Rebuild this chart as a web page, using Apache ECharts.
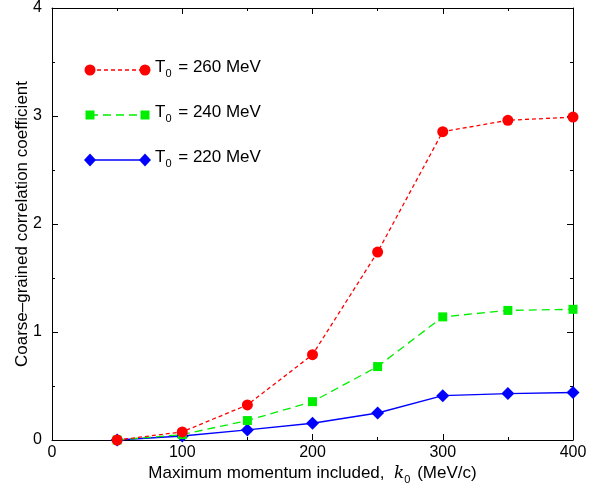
<!DOCTYPE html>
<html><head><meta charset="utf-8">
<script src="https://cdn.jsdelivr.net/npm/echarts@6/dist/echarts.min.js"></script>
<style>html,body{margin:0;padding:0;background:#fff}#c{width:598px;height:486px}</style>
</head><body><div id="c"></div>
<script>
const momentum = [50, 100, 150, 200, 250, 300, 350, 400];
const t260 = [0.00, 0.075, 0.325, 0.79, 1.74, 2.855, 2.96, 2.99];
const t240 = [0.00, 0.05, 0.18, 0.355, 0.68, 1.14, 1.20, 1.21];
const t220 = [0.00, 0.037, 0.093, 0.155, 0.25, 0.41, 0.43, 0.44];
const seriesNames = ['260', '240', '220'];
const xTicks = [0, 100, 200, 300, 400];
const yTicks = [0, 1, 2, 3, 4];

const FONT = '"Liberation Sans", Arial, sans-serif';
const chart = echarts.init(document.getElementById('c'), null, {renderer: 'canvas'});
const pair = (ys) => momentum.map((x, i) => [x, ys[i]]);
const GL = 52, GR = 25, GT = 8, GB = 46;

function boxAxis(pos, isX, show) {
  return {
    type: 'value', position: pos,
    min: isX ? xTicks[0] : yTicks[0],
    max: isX ? xTicks[xTicks.length - 1] : yTicks[yTicks.length - 1],
    interval: isX ? 100 : 1,
    nameMoveOverlap: false,
    axisLine: {show: true, onZero: false, lineStyle: {color: '#000', width: 1}},
    axisTick: {show: true, inside: true, length: 6, lineStyle: {color: '#000'}},
    minorTick: {show: true, splitNumber: 2, length: 3, lineStyle: {color: '#000'}},
    splitLine: {show: false},
    axisLabel: {show: show, color: '#000', fontFamily: FONT, fontSize: 16, margin: isX ? 5 : 10}
  };
}
const subRich = (colorKey) => ({
  a: {fontFamily: FONT, fontSize: 17, [colorKey]: '#000', lineHeight: 20, verticalAlign: 'top'},
  k: {fontFamily: '"DejaVu Serif", "Liberation Serif", serif', fontStyle: 'italic', fontSize: 17, [colorKey]: '#000', lineHeight: 20, verticalAlign: 'top'},
  s: {fontFamily: FONT, fontSize: 11, [colorKey]: '#000', lineHeight: 13, verticalAlign: 'top', padding: [9, 2, 0, 0]}
});
const xBottom = boxAxis('bottom', true, true);
xBottom.name = '{a|Maximum momentum included,  }{k|k}{s|0}{a| (MeV/c)}';
xBottom.nameLocation = 'middle';
xBottom.nameGap = 25;
xBottom.nameTextStyle = {rich: subRich('color')};
const xTop = boxAxis('top', true, false);
const yLeft = boxAxis('left', false, true);
yLeft.name = 'Coarse\u2013grained correlation coefficient';
yLeft.nameLocation = 'middle';
yLeft.nameGap = 21;
yLeft.nameTextStyle = {fontFamily: FONT, fontSize: 17, color: '#000'};
const yRight = boxAxis('right', false, false);

const colors = ['#ff0000', '#00ee00', '#0000ff'];
const dashes = [[4, 3], [8, 5], 'solid'];
const symbols = ['circle', 'rect', 'diamond'];
const symSizes = [11, 9, 13];
const datas = [t260, t240, t220];

const series = datas.map((d, i) => ({
  type: 'line', name: seriesNames[i], data: pair(d), xAxisIndex: 0, yAxisIndex: 0,
  symbol: symbols[i], symbolSize: symSizes[i], showAllSymbol: true,
  lineStyle: {color: colors[i], width: 1.3, type: dashes[i]},
  itemStyle: {color: colors[i]}, z: 10 - i, animation: false
}));

// legend drawn as graphics
const legY = [70, 115, 160];
const graphics = [];
legY.forEach((y, i) => {
  graphics.push({type: 'line', shape: {x1: 90, y1: y, x2: 145, y2: y},
    style: {stroke: colors[i], lineWidth: 1.3, lineDash: dashes[i] === 'solid' ? null : dashes[i]}});
  [90, 145].forEach(cx => {
    if (i === 0) graphics.push({type: 'circle', shape: {cx: cx, cy: y, r: 5.5}, style: {fill: colors[i]}});
    else if (i === 1) graphics.push({type: 'rect', shape: {x: cx - 4.5, y: y - 4.5, width: 9, height: 9}, style: {fill: colors[i]}});
    else graphics.push({type: 'polygon', shape: {points: [[cx, y - 6.5], [cx + 6, y], [cx, y + 6.5], [cx - 6, y]]}, style: {fill: colors[i]}});
  });
  graphics.push({type: 'text', left: 155, top: y - 11, style: {
    text: '{a|T}{s|0}{a| = ' + seriesNames[i] + ' MeV}',
    rich: subRich('fill')
  }});
});

chart.setOption({
  animation: false,
  grid: {left: GL, right: GR, top: GT, bottom: GB, containLabel: false, outerBoundsMode: 'none'},
  xAxis: [xBottom, xTop],
  yAxis: [yLeft, yRight],
  series: series,
  graphic: graphics
});
</script></body></html>
